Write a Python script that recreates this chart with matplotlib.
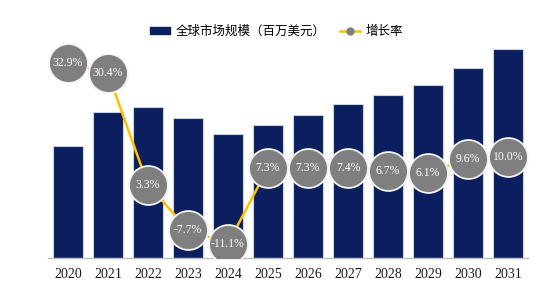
import matplotlib
matplotlib.use("Agg")
import matplotlib.pyplot as plt
from matplotlib.lines import Line2D
from matplotlib.patches import Patch

years = ["2020", "2021", "2022", "2023", "2024", "2025", "2026", "2027", "2028", "2029", "2030", "2031"]
market_size = [112, 146, 151, 140, 124, 133, 143, 154, 163, 173, 190, 209]
growth_rate = [32.9, 30.4, 3.3, -7.7, -11.1, 7.3, 7.3, 7.4, 6.7, 6.1, 9.6, 10.0]
growth_labels = ["32.9%", "30.4%", "3.3%", "-7.7%", "-11.1%", "7.3%", "7.3%", "7.4%", "6.7%", "6.1%", "9.6%", "10.0%"]

navy = "#0B1F5E"
gold = "#FFC000"
grey = "#7F7F7F"

fig = plt.figure(figsize=(5.5, 2.93), dpi=100)
ax = fig.add_axes([0.087, 0.119, 0.873, 0.779])
x = list(range(len(years)))
ax.bar(x, market_size, width=0.76, color=navy, edgecolor="#c9d3e6", linewidth=0.8, zorder=2)
ax.set_xlim(-0.5, 11.5)
ax.set_ylim(0, 228)
ax.set_yticks([])
for s in ["top", "right", "left"]:
    ax.spines[s].set_visible(False)
ax.spines["bottom"].set_color("#bfbfbf")
ax.spines["bottom"].set_linewidth(1.0)
ax.set_xticks(x)
ax.set_xticklabels(years, fontfamily="Liberation Serif", fontsize=10, color="#1a1a1a")
ax.tick_params(axis="x", length=0, pad=7)

ax2 = ax.twinx()
ax2.set_ylim(-14.6, 40.9)
ax2.axis("off")
ax2.plot(x, growth_rate, color=gold, linewidth=1.8, zorder=3)
ax2.plot(x, growth_rate, linestyle="none", marker="o", markersize=28,
         markerfacecolor=grey, markeredgecolor="#f4f4f4", markeredgewidth=1.3, zorder=4)
for xi, v, lab in zip(x, growth_rate, growth_labels):
    ax2.text(xi, v, lab, ha="center", va="center", color="white",
             fontfamily="Liberation Serif", fontsize=8.5, zorder=5)

handles = [Patch(facecolor=navy, edgecolor=navy),
           Line2D([0], [0], color=gold, linewidth=1.8, marker="o",
                  markerfacecolor=grey, markeredgecolor=grey, markersize=5)]
labels = ["全球市场规模（百万美元）", "增长率"]
fig.legend(handles, labels, loc="center", bbox_to_anchor=(0.503, 0.893), ncol=2,
           frameon=False, prop={"family": ["Noto Sans CJK SC", "DejaVu Sans"], "size": 9},
           handlelength=1.6, handleheight=0.5, columnspacing=1.2, handletextpad=0.4)

fig.savefig("out.png", dpi=100)
